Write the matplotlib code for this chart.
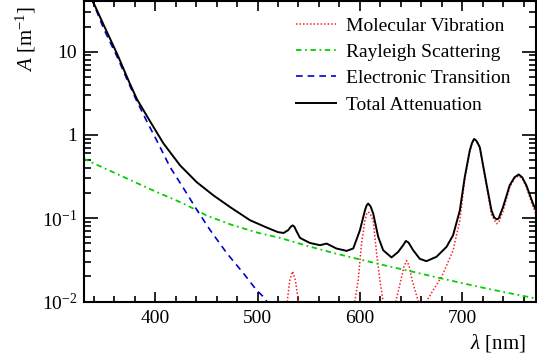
import numpy as np
import matplotlib
matplotlib.use("Agg")
import matplotlib.pyplot as plt
from matplotlib.ticker import FixedLocator, FixedFormatter, MultipleLocator, LogLocator, NullFormatter

plt.rcParams['font.family'] = ['Liberation Serif', 'DejaVu Serif']
plt.rcParams['mathtext.fontset'] = 'custom'
plt.rcParams['mathtext.rm'] = 'Liberation Serif'
plt.rcParams['mathtext.it'] = 'Liberation Serif:italic'

# wavelength (nm) / attenuation (1/m)
elec_wl = [330, 339, 350, 363, 373, 380.5, 391.9, 401.7, 414.6, 427.6, 440.7, 453.7, 470, 486, 499, 507, 520]
elec_A = [70, 40, 18.5, 8.6, 4.5, 2.8, 1.45, 0.85, 0.41, 0.23, 0.126, 0.072, 0.038, 0.022, 0.0137, 0.011, 0.006]

rayl_wl = [330, 350, 375, 400, 425, 441, 450, 475, 500, 522, 550, 575, 600, 625, 650, 675, 700, 725, 750, 775]
rayl_A = [0.52, 0.40, 0.29, 0.21, 0.155, 0.124, 0.108, 0.083, 0.067, 0.058, 0.046, 0.038, 0.032, 0.027,
          0.023, 0.0195, 0.0166, 0.0142, 0.0123, 0.0107]

mol_wl = [520, 527, 529, 531.5, 534.3, 537, 540, 542, 550, 590, 593, 595, 598.3, 601.6, 604.9, 606.5,
          608.1, 610, 613, 616.3, 619.5, 622.7, 625, 630, 632, 635, 640, 643, 645.6, 648, 651, 657,
          659.5, 661, 665, 672, 680, 691, 697.6, 702.4, 707.3, 709.5, 711.5, 713.5, 717.1, 723.6,
          728.5, 733.4, 735.5, 739.8, 746.3, 751, 755.1, 758.5, 762.6, 769, 775]
mol_A = [1e-4, 0.004, 0.01, 0.018, 0.023, 0.018, 0.01, 0.004, 1e-4, 1e-4, 0.004, 0.01, 0.018, 0.05,
         0.094, 0.112, 0.119, 0.113, 0.094, 0.038, 0.018, 0.01, 0.004, 1e-4, 0.004, 0.01, 0.018,
         0.026, 0.031, 0.027, 0.018, 0.01, 0.004, 0.003, 0.01, 0.014, 0.02, 0.041, 0.094, 0.295,
         0.634, 0.79, 0.88, 0.85, 0.70, 0.245, 0.11, 0.086, 0.088, 0.122, 0.235, 0.30, 0.322, 0.30,
         0.236, 0.138, 0.092]

tot_wl = [330, 339, 351, 363, 375, 382.1, 395.1, 408.1, 424.4, 440.7, 456.9, 473.2, 492.7,
          509, 520, 525.5, 530, 532.5, 534.3, 536, 538, 541.5, 551, 561, 567.5, 577, 587, 593.5, 600,
          604.9, 606.5, 608.1, 610.5, 613, 617.9, 622.7, 630.9, 637.4, 642, 644.9, 647.5, 652, 658.5,
          665, 674.8, 684.6, 691, 697.6, 702.4, 707.3, 709.5, 711.5, 713.5, 715, 717.1, 723.6, 728.5,
          731, 733.4, 735.5, 739.8, 746.3, 751, 755.1, 758.5, 762.6, 769, 775]
tot_A = [70, 40.5, 19.3, 9.3, 4.2, 2.7, 1.45, 0.79, 0.43, 0.27, 0.188, 0.136, 0.0945,
         0.0772, 0.068, 0.0665, 0.072, 0.079, 0.082, 0.079, 0.07, 0.058, 0.0505, 0.0474, 0.0496,
         0.0433, 0.0405, 0.0433, 0.0716, 0.124, 0.142, 0.150, 0.138, 0.1135, 0.0596, 0.0413,
         0.0338, 0.0394, 0.047, 0.0533, 0.051, 0.0413, 0.0325, 0.0305, 0.0344, 0.0453, 0.0624,
         0.124, 0.311, 0.649, 0.80, 0.895, 0.86, 0.80, 0.711, 0.259, 0.124, 0.103, 0.097, 0.099,
         0.136, 0.248, 0.31, 0.335, 0.31, 0.248, 0.150, 0.105]

W, H = 537, 364
fig = plt.figure(figsize=(W / 100, H / 100), dpi=100)
ax = fig.add_axes([84 / W, (H - 301.5) / H, 452 / W, 300.5 / H])

ax.plot(mol_wl, mol_A, color='#ff2020', ls=(0, (1, 1.3)), lw=1.1, label='Molecular Vibration')
ax.plot(rayl_wl, rayl_A, color='#00d000', ls=(0, (3, 2, 1, 2)), lw=1.3, label='Rayleigh Scattering')
ax.plot(elec_wl, elec_A, color='#0000d0', ls=(0, (4, 3)), lw=1.2, label='Electronic Transition')
ax.plot(tot_wl, tot_A, color='black', lw=1.4, label='Total Attenuation')

ax.set_yscale('log')
ax.set_xlim(330.5, 772)
ax.set_ylim(0.01, 40.5)

ax.xaxis.set_major_locator(MultipleLocator(100))
ax.xaxis.set_minor_locator(MultipleLocator(20))
ax.yaxis.set_major_locator(FixedLocator([0.01, 0.1, 1, 10]))
ax.yaxis.set_major_formatter(FixedFormatter(['10$^{-2}$', '10$^{-1}$', '1', '10']))
ax.yaxis.set_minor_locator(LogLocator(base=10, subs=np.arange(2, 10)))
ax.yaxis.set_minor_formatter(NullFormatter())

ax.tick_params(which='both', direction='in', top=True, right=True, labelsize=14, width=1.2)
ax.tick_params(axis='x', which='major', length=7, pad=6)
ax.tick_params(axis='x', which='minor', length=4)
ax.tick_params(axis='y', which='major', length=10, pad=5)
ax.tick_params(axis='y', which='minor', length=5)
for s in ax.spines.values():
    s.set_linewidth(1.5)

leg = ax.legend(loc='upper left', bbox_to_anchor=(0.468, 0.947), frameon=False, fontsize=14,
                handlelength=2.1, handletextpad=0.5, labelspacing=0.45,
                borderaxespad=0, borderpad=0)

fig.text(470 / W, 1 - 343 / H, r'$\mathit{\lambda}$ [nm]', fontsize=15, ha='left', va='center')
fig.text(26 / W, 1 - 72 / H, r'$\mathit{A}$ [m$^{-1}$]', fontsize=15, rotation=90,
         ha='center', va='bottom')

fig.savefig('out.png', dpi=100)
